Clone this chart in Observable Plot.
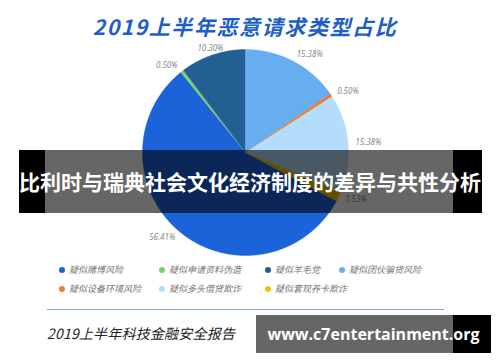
<!DOCTYPE html>
<html>
<head>
<meta charset="utf-8">
<script src="https://cdn.jsdelivr.net/npm/d3@7"></script>
<script src="https://cdn.jsdelivr.net/npm/@observablehq/plot@0.6"></script>
<style>
  html, body { margin: 0; padding: 0; background: #fff; }
  #wrap { position: relative; width: 500px; height: 362px; overflow: hidden; background: #fff;
          font-family: "Noto Sans CJK SC", "Noto Sans", sans-serif; }
  #chart { position: absolute; left: 0; top: 0; }
  .title { position: absolute; left: 0; width: 490px; top: 11px; text-align: center;
           font-size: 21px; font-weight: bold; font-style: italic; color: #1d5fc6; letter-spacing: 1.6px; line-height: 30px; }
  .legend { position: absolute; left: 59px; top: 263px; display: grid;
            grid-template-columns: 100px 106px 74px auto; row-gap: 5px; }
  .item { display: flex; align-items: center; font-size: 9px; font-style: italic; color: #777; line-height: 14px; white-space: nowrap; }
  .dot { width: 6px; height: 6px; border-radius: 50%; margin-right: 4px; flex-shrink: 0; }
  .fline { position: absolute; left: 47px; top: 309px; width: 397px; height: 1px; background: #7ca3e3; }
  .footer { position: absolute; left: 47px; top: 323px; font-size: 14px; font-style: italic; color: #222;
            letter-spacing: 0.2px; line-height: 20px; white-space: nowrap; }
  .band { position: absolute; left: 19px; top: 150px; width: 463px; height: 63px; background: rgba(0,0,0,0.6); }
  .blk { position: absolute; background: #000; }
  .bandtext { position: absolute; left: 0; width: 500px; top: 150px; height: 63px; line-height: 63px; text-align: center;
              color: #fff; font-weight: bold; font-size: 21px; white-space: nowrap; }
  .wm { position: absolute; left: 256px; top: 315px; width: 235px; height: 38px; background: rgba(0,0,0,0.6); }
  .wmtext { position: absolute; left: 260px; width: 227px; top: 315px; height: 38px; line-height: 38px; text-align: center;
            color: #fff; font-weight: bold; font-size: 16px; font-family: "Open Sans", sans-serif; white-space: nowrap; }
</style>
</head>
<body>
<div id="wrap">
  <div class="title" id="title"></div>
  <div id="chart"></div>
  <div class="legend" id="legend"></div>
  <div class="fline"></div>
  <div class="footer" id="footer"></div>
  <div class="band"></div>
  <div class="blk" style="left:19px;top:150px;width:26px;height:63px"></div>
  <div class="blk" style="left:453px;top:150px;width:29px;height:63px"></div>
  <div class="bandtext" id="bandtext"></div>
  <div class="wm"></div>
  <div class="blk" style="left:453px;top:315px;width:38px;height:38px"></div>
  <div class="wmtext" id="wmtext"></div>
</div>
<script>
const titleText = "2019上半年恶意请求类型占比";
const footerText = "2019上半年科技金融安全报告";
const bandText = "比利时与瑞典社会文化经济制度的差异与共性分析";
const watermark = "www.c7entertainment.org";

const categories = ["疑似赌博风险", "疑似申请资料伪造", "疑似羊毛党", "疑似团伙骗贷风险",
                    "疑似设备环境风险", "疑似多头借贷欺诈", "疑似套现养卡欺诈"];
const values = [56.41, 0.50, 10.30, 15.38, 0.50, 15.38, 1.53];
const colors = ["#1c62d9", "#7dd06e", "#245f94", "#66aef0", "#f07a30", "#b3ddfb", "#f7c100"];
const firstAtTop = "疑似团伙骗贷风险";

document.getElementById("title").textContent = titleText;
document.getElementById("footer").textContent = footerText;
document.getElementById("bandtext").textContent = bandText;
document.getElementById("wmtext").textContent = watermark;

const rows = categories.map((name, i) => ({name, value: values[i]}));
const total = d3.sum(values);
const before = d3.sum(values.slice(0, categories.indexOf(firstAtTop)));
const a0 = -2 * Math.PI * before / total;
const slices = d3.pie().value(d => d.value).sort(null).startAngle(a0).endAngle(a0 + 2 * Math.PI)(rows);

// slice outlines (center + arc)
const pts = [];
for (const s of slices) {
  pts.push({name: s.data.name, x: 0, y: 0});
  const n = Math.max(2, Math.ceil((s.endAngle - s.startAngle) / (Math.PI / 360)));
  for (let k = 0; k <= n; k++) {
    const a = s.startAngle + (s.endAngle - s.startAngle) * k / n;
    pts.push({name: s.data.name, x: Math.sin(a), y: -Math.cos(a)});
  }
  pts.push({name: s.data.name, x: 0, y: 0});
}

const lr = 1.07;
const labels = slices.map(s => {
  const m = (s.startAngle + s.endAngle) / 2;
  const sx = Math.sin(m);
  return {x: sx * lr, y: -Math.cos(m) * lr, text: s.data.value.toFixed(2) + "%",
          side: Math.abs(sx) < 0.4 ? "middle" : (sx > 0 ? "start" : "end")};
});
const lab = side => Plot.text(labels.filter(d => d.side === side), {
  x: "x", y: "y", text: "text", textAnchor: side, fill: "#888", fontSize: 8, fontStyle: "italic"
});

const plot = Plot.plot({
  width: 500, height: 362, margin: 0,
  style: {background: "transparent", fontFamily: "'Noto Sans', sans-serif"},
  x: {domain: [-1, 1], range: [142, 348], axis: null},
  y: {domain: [-1, 1], range: [49, 255], axis: null},
  color: {domain: categories, range: colors},
  marks: [
    Plot.line(pts, {x: "x", y: "y", z: "name", fill: "name", stroke: "name", strokeWidth: 0.4, curve: "linear"}),
    lab("start"), lab("end"), lab("middle")
  ]
});
document.getElementById("chart").appendChild(plot);

const leg = document.getElementById("legend");
categories.forEach((name, i) => {
  const it = document.createElement("div");
  it.className = "item";
  const dot = document.createElement("span");
  dot.className = "dot";
  dot.style.background = colors[i];
  const t = document.createElement("span");
  t.textContent = name;
  it.appendChild(dot); it.appendChild(t);
  leg.appendChild(it);
});
</script>
</body>
</html>
